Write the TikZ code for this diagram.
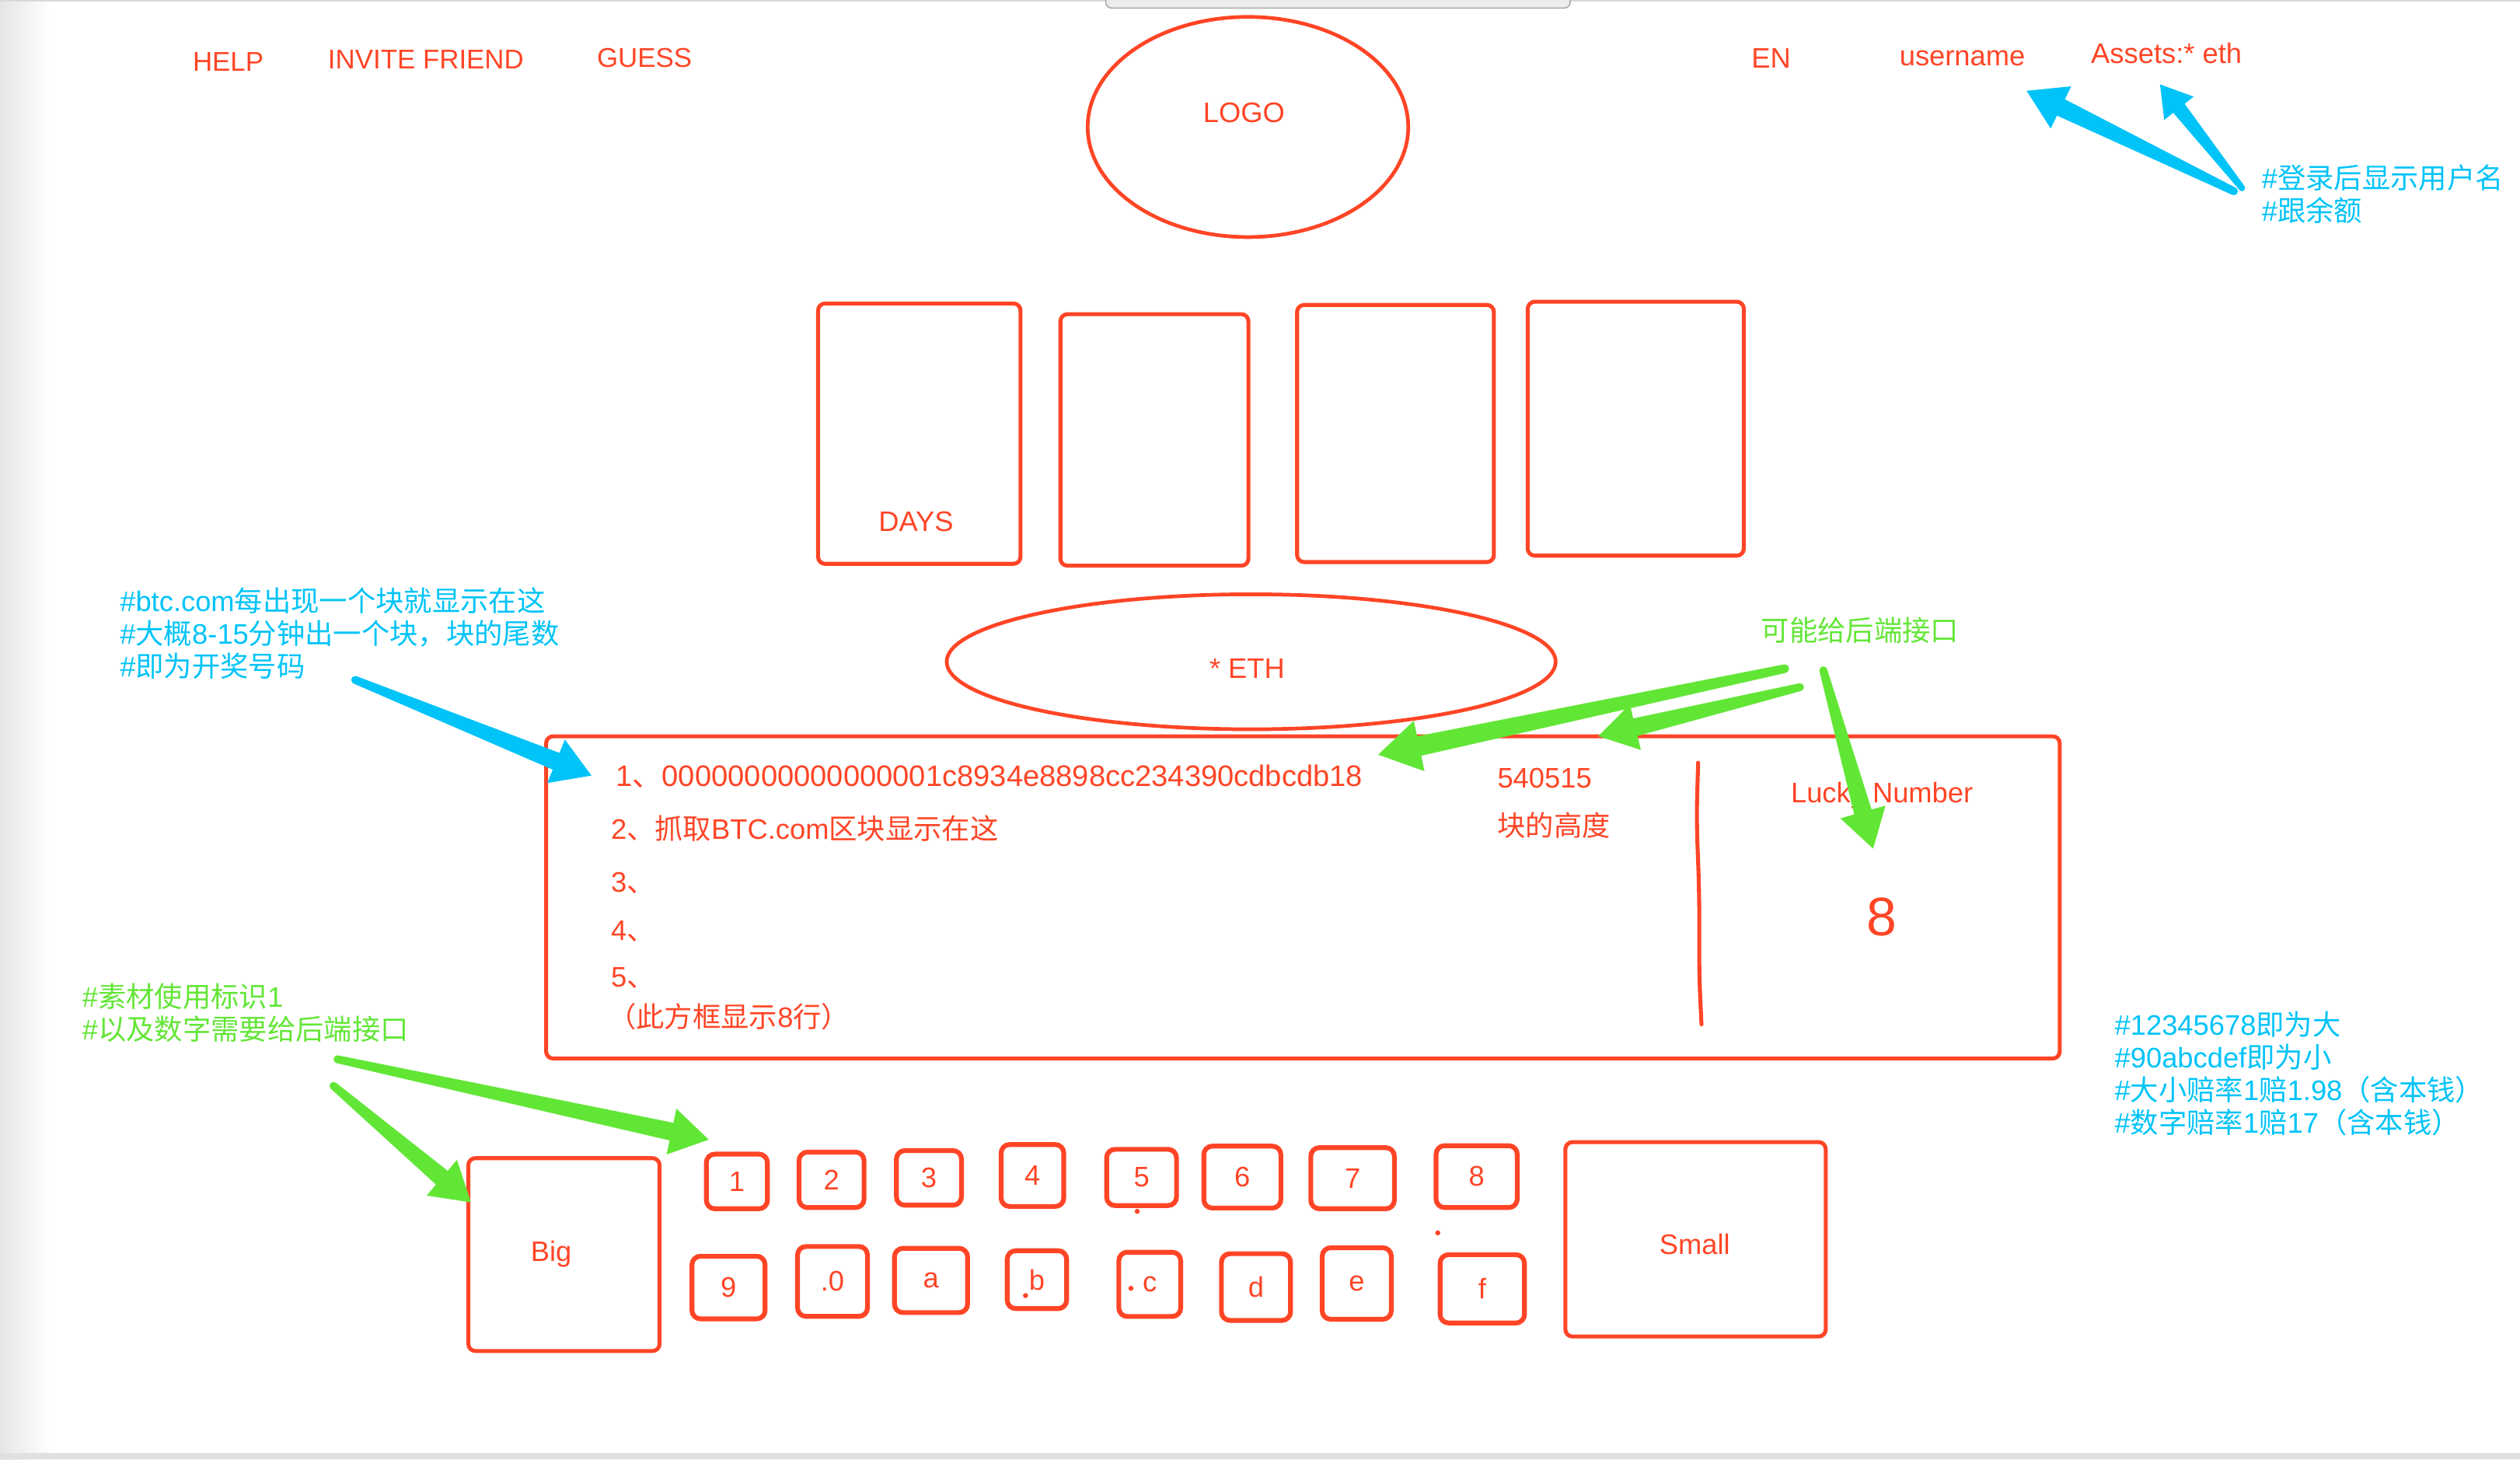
\documentclass[tikz,border=0pt]{standalone}
\usepackage{fontspec}
\setmainfont{Liberation Sans}
\newfontfamily\cjk{Noto Sans CJK SC}
\usetikzlibrary{
    shapes.geometric,
    calc,
    positioning
}
\definecolor{sketchred}{HTML}{FF4526}
\definecolor{noteblue}{HTML}{00C3F8}
\definecolor{notegreen}{HTML}{62E636}
\definecolor{chrome}{HTML}{EDECEC}
\tikzset{
    % Wireframe box style
    panel/.style={
        rectangle,
        draw=sketchred,
        line width=1.4pt,
        rounded corners=2.5pt,
        inner sep=0pt
    },
    % Keypad button style
    keybox/.style={
        panel,
        line width=1.7pt,
        rounded corners=3pt,
        text=sketchred,
        font=\fontsize{10}{12}\selectfont
    },
    % Ellipse style
    blob/.style={
        ellipse,
        draw=sketchred,
        line width=1.3pt,
        inner sep=0pt
    },
    % Red wireframe text
    redtext/.style={
        text=sketchred,
        font=\fontsize{10}{12}\selectfont,
        inner sep=0pt,
        anchor=base west
    },
    % Menu text
    menutext/.style={
        redtext,
        font=\fontsize{9.6}{12}\selectfont,
        anchor=base
    },
    % Annotation text (placed by its last line)
    note/.style={
        text=#1,
        font=\fontsize{10}{11.55}\selectfont,
        inner sep=0pt,
        anchor=base west,
        align=left
    }
}
% Tapered hand-drawn arrow: [size]{colour}{tail}{tip}
\newcommand{\fatarrow}[4][1]{%
    \pgfmathsetmacro{\fahead}{13.5*#1}%
    \pgfmathsetmacro{\fabarb}{8.3*#1}%
    \pgfmathsetmacro{\fashaft}{3.2*#1}%
    \pgfmathsetmacro{\fatail}{1.4*#1}%
    \coordinate (fa-base) at ($(#4)!\fahead pt!(#3)$);
    \fill[#2] ($(#3)!\fatail pt!90:(#4)$) -- ($(fa-base)!\fashaft pt!90:(#4)$)
        -- ($(fa-base)!\fabarb pt!90:(#4)$) -- (#4)
        -- ($(fa-base)!\fabarb pt!-90:(#4)$) -- ($(fa-base)!\fashaft pt!-90:(#4)$)
        -- ($(#3)!\fatail pt!-90:(#4)$) -- cycle;
    \fill[#2] (#3) circle[radius=\fatail pt];
}

\begin{document}
\begin{tikzpicture}[x=0.02cm, y=-0.02cm]
        \useasboundingbox (0,0) rectangle (1568,908);

        % Window edges
        \shade[left color=black!10, right color=white] (0,0) rectangle (32,908);
        \fill[black!12] (0,904) rectangle (1568,908);
        \draw[black!15, line width=0.6pt] (0,0.4) -- (1568,0.4);
        \draw[black!35, fill=chrome, line width=0.4pt, rounded corners=2pt] (688,-4) rectangle (977,5);

        % Header bar
        \node[menutext] (help) at (142,44.3) {HELP};
        \node[menutext] (invite) at (265,42.7) {INVITE FRIEND};
        \node[menutext] (guess) at (401,42) {GUESS};
        \node[redtext, anchor=base] (lang) at (1102,42.3) {EN};
        \node[redtext, anchor=base] (user) at (1221,41) {username};
        \node[redtext, anchor=base] (assets) at (1348,39.5) {Assets:* eth};

        \node[blob, minimum width=3.99cm, minimum height=2.74cm] (logo) at (776.5,79) {};
        \node[redtext, anchor=base] (logotext) at (774,76) {LOGO};

        % Countdown cards
        \node[panel, minimum width=2.52cm, minimum height=3.24cm] (card1) at (572,269.8) {};
        \node[panel, minimum width=2.34cm, minimum height=3.13cm] (card2) at (718.3,273.7) {};
        \node[panel, minimum width=2.45cm, minimum height=3.20cm] (card3) at (868.3,269.7) {};
        \node[panel, minimum width=2.69cm, minimum height=3.16cm] (card4) at (1017.8,266.7) {};
        \node[redtext, anchor=base] (daystext) at (570,330.5) {DAYS};

        \node[blob, minimum width=7.58cm, minimum height=1.68cm] (eth) at (778.5,411.7) {};
        \node[redtext, anchor=base] (ethtext) at (776,422) {* ETH};

        % Block board
        \node[panel, minimum width=18.84cm, minimum height=4.01cm] (board) at (810.7,558.3) {};
        \node[redtext, font=\fontsize{10.5}{12}\selectfont] (row1) at (382.9,489.4) {1{\cjk 、}00000000000000001c8934e8898cc234390cdbcdb18};
        \node[redtext] (row2) at (379.8,522) {2{\cjk 、抓取}BTC.com{\cjk 区块显示在这}};
        \node[redtext] (row3) at (379.9,555) {3{\cjk 、}};
        \node[redtext] (row4) at (379.9,585) {4{\cjk 、}};
        \node[redtext] (row5) at (379.9,614) {5{\cjk 、}};
        \node[redtext] (row6) at (378,639) {{\cjk （此方框显示}8{\cjk 行）}};
        \node[redtext] (height) at (931.4,490) {540515};
        \node[redtext] (heightlabel) at (931.4,520) {{\cjk 块的高度}};

        \draw[sketchred, line width=1.4pt, line cap=round, rounded corners=8pt]
            (1056.6,474.5) -- (1055.6,509.6) -- (1057.3,555) -- (1057.3,608.5) -- (1058.7,637.3);
        \node[redtext, anchor=base] (lucky) at (1171,499.4) {Lucky Number};
        \node[redtext, anchor=base, font=\fontsize{19.2}{23}\selectfont] (luckynum) at (1171,582) {8};

        % Keypad
        \node[panel, minimum width=2.38cm, minimum height=2.40cm] (big) at (350.9,780.5) {};
        \node[redtext, anchor=base] (bigtext) at (343,784.6) {Big};
        \node[panel, minimum width=3.24cm, minimum height=2.42cm] (small) at (1055,771) {};
        \node[redtext, anchor=base] (smalltext) at (1054.5,780.6) {Small};

        \node[keybox, minimum width=0.76cm, minimum height=0.68cm] (k1) at (458.5,735) {1};
        \node[keybox, minimum width=0.81cm, minimum height=0.69cm] (k2) at (517.4,734) {2};
        \node[keybox, minimum width=0.81cm, minimum height=0.68cm] (k3) at (578,732.8) {3};
        \node[keybox, minimum width=0.78cm, minimum height=0.77cm] (k4) at (642.4,731.3) {4};
        \node[keybox, minimum width=0.87cm, minimum height=0.70cm] (k5) at (710.3,732.5) {5};
        \node[keybox, minimum width=0.96cm, minimum height=0.77cm] (k6) at (773,732.3) {6};
        \node[keybox, minimum width=1.04cm, minimum height=0.76cm] (k7) at (841.6,733) {7};
        \node[keybox, minimum width=1.01cm, minimum height=0.77cm] (k8) at (918.8,732) {8};

        \node[keybox, minimum width=0.91cm, minimum height=0.78cm] (k9) at (453.3,801) {9};
        \node[keybox, minimum width=0.87cm, minimum height=0.87cm] (k0) at (518,797.2) {.0};
        \node[keybox, minimum width=0.91cm, minimum height=0.80cm] (ka) at (579.3,796.6) {a};
        \node[keybox, minimum width=0.74cm, minimum height=0.72cm] (kb) at (645.2,796.1) {b};
        \node[keybox, minimum width=0.77cm, minimum height=0.80cm] (kc) at (715.4,799) {c};
        \node[keybox, minimum width=0.86cm, minimum height=0.83cm] (kd) at (781.5,800.7) {d};
        \node[keybox, minimum width=0.86cm, minimum height=0.89cm] (ke) at (844.2,798.5) {e};
        \node[keybox, minimum width=1.05cm, minimum height=0.85cm] (kf) at (922.3,801.8) {f};

        \fill[sketchred] (707.6,753.6) circle[radius=0.9pt];
        \fill[sketchred] (894.6,767) circle[radius=0.9pt];
        \fill[sketchred] (638.1,806) circle[radius=0.9pt];
        \fill[sketchred] (703.7,801.5) circle[radius=0.9pt];

        % Notes
        \node[note=noteblue] (loginnote) at (1407,137.5)
            {\#{\cjk 登录后显示用户名}\\\#{\cjk 跟余额}};
        \node[note=noteblue] (btcnote) at (74.3,421)
            {\#btc.com{\cjk 每出现一个块就显示在这}\\\#{\cjk 大概}8-15{\cjk 分钟出一个块，块的尾数}\\\#{\cjk 即为开奖号码}};
        \node[note=noteblue] (rulenote) at (1315.5,705)
            {\#12345678{\cjk 即为大}\\\#90abcdef{\cjk 即为小}\\\#{\cjk 大小赔率}1{\cjk 赔}1.98{\cjk （含本钱）}\\\#{\cjk 数字赔率}1{\cjk 赔}17{\cjk （含本钱）}};
        \node[note=notegreen] (apinote) at (1095.5,399) {{\cjk 可能给后端接口}};
        \node[note=notegreen] (assetnote) at (50.9,647)
            {\#{\cjk 素材使用标识}1\\\#{\cjk 以及数字需要给后端接口}};

        % Arrows
        \coordinate (userTail) at (1390,119);
        \coordinate (userTip) at (1261,56.5);
        \coordinate (assetTail) at (1395,117);
        \coordinate (assetTip) at (1344,52.5);
        \coordinate (btcTail) at (221,423);
        \coordinate (btcTip) at (368,482.5);
        \coordinate (hashTail) at (1110.5,416);
        \coordinate (hashTip) at (857.5,469.5);
        \coordinate (heightTail) at (1120,427.5);
        \coordinate (heightTip) at (994.5,458);
        \coordinate (luckyTail) at (1134.5,417);
        \coordinate (luckyTip) at (1165.5,528);
        \coordinate (keyTail) at (210,659);
        \coordinate (keyTip) at (441,709);
        \coordinate (bigTail) at (207.5,675.5);
        \coordinate (bigTip) at (293,748);

        \fatarrow{noteblue}{userTail}{userTip}
        \fatarrow[0.8]{noteblue}{assetTail}{assetTip}
        \fatarrow{noteblue}{btcTail}{btcTip}
        \fatarrow[1.1]{notegreen}{hashTail}{hashTip}
        \fatarrow{notegreen}{heightTail}{heightTip}
        \fatarrow{notegreen}{luckyTail}{luckyTip}
        \fatarrow{notegreen}{keyTail}{keyTip}
        \fatarrow{notegreen}{bigTail}{bigTip}

    \end{tikzpicture}
\end{document}
